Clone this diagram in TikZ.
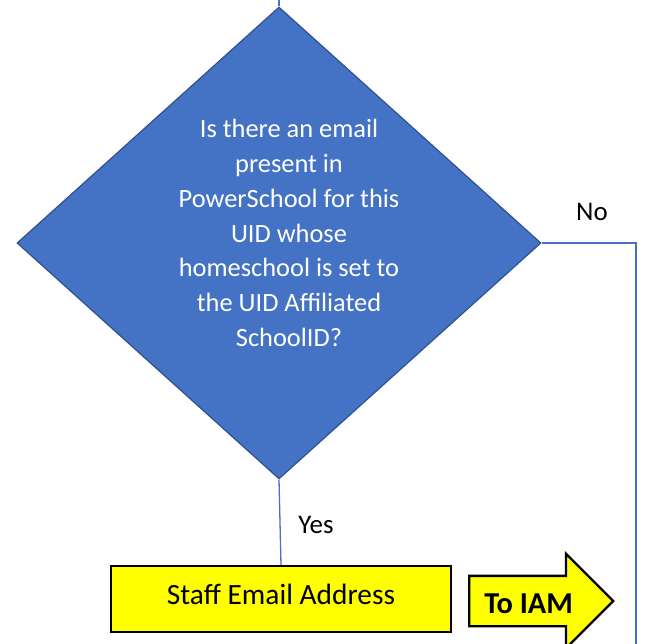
\documentclass[tikz,border=0pt]{standalone}
\usepackage{fontspec}
\setmainfont{Carlito}
\usetikzlibrary{shapes.geometric,shapes.arrows}
\definecolor{dfill}{HTML}{4472C4}
\definecolor{dborder}{HTML}{2F528F}
\definecolor{yel}{HTML}{FFFF00}
\begin{document}
\begin{tikzpicture}[x=1bp,y=-1bp,
  conn/.style={draw=dfill,line width=1.3bp},
  decision/.style={diamond,fill=dfill,draw=dborder,line width=1.2bp,minimum width=524bp,minimum height=472bp,inner sep=0pt},
  qtext/.style={text=white,align=center,font=\fontsize{26.5}{35}\selectfont},
  lbl/.style={font=\fontsize{27}{32}\selectfont,text=black},
  stepbox/.style={draw=black,fill=yel,line width=2bp,minimum width=340bp,minimum height=66bp,text height=19bp,text depth=9bp,font=\fontsize{29.5}{32}\selectfont},
  toarrow/.style={single arrow,draw=black,fill=yel,line width=2.4bp,minimum height=144bp,single arrow head extend=22bp,text height=24bp,text depth=0bp,inner ysep=12bp,inner xsep=2bp,font=\bfseries\fontsize{30.5}{32}\selectfont}
]
\useasboundingbox (0,0) rectangle (651,644);
\node[decision] (dec) at (279,243) {};
\node[qtext] (q) at (289,233) {Is there an email\\present in\\PowerSchool for this\\UID whose\\homeschool is set to\\the UID Affiliated\\SchoolID?};
\coordinate (topend) at (dec.north |- 0,0);
\draw[conn] (dec.north) -- (topend);
\coordinate (corner) at (636,243);
\coordinate (rend) at (636,644);
\draw[conn] (dec.east) -- (corner) -- (rend);
\node[lbl] (no) at (592,212) {No};
\node[stepbox] (box) at (281,599) {Staff Email Address};
\draw[conn] (dec.south) -- (box.north);
\node[lbl] (yes) at (316,525) {Yes};
\node[toarrow,anchor=tail] (iam) at (468,601) {To IAM};
\end{tikzpicture}
\end{document}
